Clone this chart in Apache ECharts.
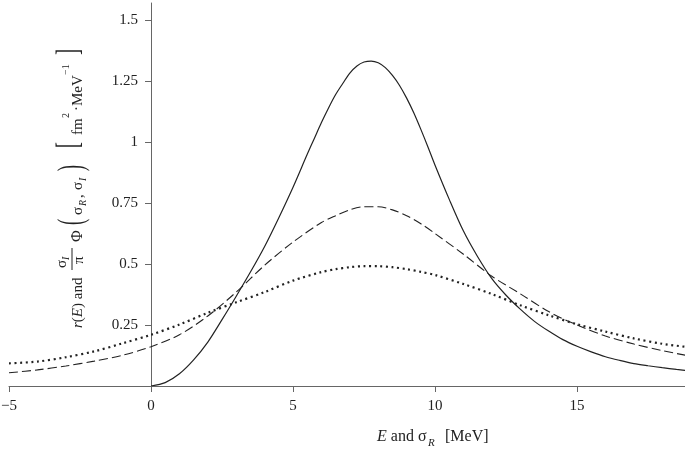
<!DOCTYPE html>
<html>
<head>
<meta charset="utf-8">
<script src="https://cdn.jsdelivr.net/npm/echarts@6/dist/echarts.min.js"></script>
<style>
  html, body { margin: 0; padding: 0; background: #fff; }
  #chart { width: 685px; height: 451px; }
</style>
</head>
<body>
<div id="chart"></div>
<script>
// r(E) - solid
const solidX = [0, 0.5, 1, 1.5, 2, 2.5, 3, 3.5, 4, 4.5, 5, 5.5, 5.75, 6, 6.25, 6.5, 6.75, 7, 7.25, 7.5, 7.75, 8, 8.25, 8.5, 8.75, 9, 9.25, 9.5, 9.75, 10, 10.5, 11, 11.5, 12, 12.5, 13, 13.5, 14, 14.5, 15, 15.5, 16, 16.5, 17, 17.5, 18, 18.5, 19]
const solidY = [0, 0.014, 0.05, 0.107, 0.18, 0.272, 0.368, 0.467, 0.572, 0.69, 0.815, 0.95, 1.015, 1.08, 1.14, 1.195, 1.24, 1.283, 1.312, 1.328, 1.332, 1.325, 1.305, 1.273, 1.232, 1.18, 1.12, 1.052, 0.98, 0.905, 0.765, 0.635, 0.53, 0.44, 0.372, 0.315, 0.265, 0.225, 0.19, 0.163, 0.14, 0.12, 0.105, 0.092, 0.083, 0.075, 0.068, 0.062]

// dashed
const dashX = [-5, -4, -3, -2, -1, 0, 1, 2, 3, 4, 5, 6, 6.5, 7, 7.5, 8, 8.5, 9, 9.5, 10, 11, 12, 13, 14, 15, 16, 17, 18, 19]
const dashY = [0.054, 0.066, 0.082, 0.102, 0.126, 0.161, 0.21, 0.287, 0.385, 0.495, 0.59, 0.67, 0.698, 0.722, 0.735, 0.735, 0.722, 0.698, 0.665, 0.625, 0.54, 0.45, 0.378, 0.305, 0.25, 0.205, 0.172, 0.145, 0.122]

// dotted
const dotX = [-5, -4, -3, -2, -1, 0, 1, 2, 3, 4, 5, 6, 6.5, 7, 7.5, 8, 8.5, 9, 9.5, 10, 11, 12, 13, 14, 15, 16, 17, 18, 19]
const dotY = [0.093, 0.1, 0.118, 0.142, 0.175, 0.21, 0.252, 0.3, 0.343, 0.385, 0.432, 0.467, 0.479, 0.487, 0.491, 0.491, 0.487, 0.479, 0.468, 0.455, 0.418, 0.377, 0.331, 0.29, 0.253, 0.223, 0.195, 0.173, 0.158]

const xTicks = [-5, 0, 5, 10, 15]
const yTicks = [0.25, 0.5, 0.75, 1, 1.25, 1.5]

const pairs = (xs, ys) => xs.map((x, i) => [x, ys[i]])

const FONT = '"Liberation Serif", "DejaVu Serif", serif'
const INK = '#222'
const AXIS = '#666'

const X_MIN = -5, X_MAX = 18.8
const GRID_L = 9, GRID_R = 0, W = 685
// shift the y axis so it sits on E = 0
const yOffset = -(0 - X_MIN) * (W - GRID_L - GRID_R) / (X_MAX - X_MIN)

function txt(x, y, text, size, extra) {
  return {
    type: 'text', x: x, y: y,
    style: Object.assign({
      text: text, fontFamily: FONT, fontSize: size, fill: INK,
      align: 'left', verticalAlign: 'middle'
    }, extra || {})
  }
}
const it = { fontStyle: 'italic' }
function tall(x, y, ch, size, sy) {
  const t = txt(x, y, ch, size)
  t.scaleY = sy
  return t
}

// y axis title, laid out along the text direction (u) and across it (v)
const yTitle = {
  type: 'group', x: 78, y: 328, rotation: Math.PI / 2,
  children: [
    txt(0, 0, '{i|r}({i|E}) and', 15, { rich: { i: { fontStyle: 'italic', fontFamily: FONT, fontSize: 15 } } }),
    txt(60, -16, 'σ', 15),
    txt(68, -12, 'I', 10, it),
    { type: 'line', shape: { x1: 58, y1: -6, x2: 80, y2: -6 }, style: { stroke: INK, lineWidth: 1 } },
    txt(64, 1, 'π', 15),
    txt(86, 0, 'Φ', 16),
    tall(103, -5, '(', 18, 2.0),
    txt(113, 0, 'σ', 15),
    txt(122, 5, 'R', 10, it),
    txt(130, 1, ',', 15),
    txt(138, 0, 'σ', 15),
    txt(147, 5, 'I', 10, it),
    tall(157, -5, ')', 18, 2.0),
    tall(180, -8, '[', 18, 1.7),
    txt(193, 0, 'fm', 15),
    txt(210, -12, '2', 10),
    txt(217, -1, '·', 15),
    txt(222, 0, 'MeV', 15),
    txt(253, -12, '−1', 10),
    tall(273, -8, ']', 18, 1.7)
  ]
}

// x axis title
const xTitle = [
  txt(377, 437, '{i|E} and σ', 16, { rich: { i: { fontStyle: 'italic', fontFamily: FONT, fontSize: 16 } } }),
  txt(428, 443, 'R', 11, it),
  txt(445, 437, '[MeV]', 16)
]

const chart = echarts.init(document.getElementById('chart'))
chart.setOption({
  animation: false,
  backgroundColor: '#fff',
  grid: { left: GRID_L, right: GRID_R, top: 3, bottom: 65, containLabel: false, outerBoundsMode: 'none' },
  xAxis: {
    type: 'value', min: X_MIN, max: X_MAX,
    axisLine: { show: true, onZero: false, lineStyle: { color: AXIS, width: 1 } },
    axisTick: { show: true, length: 6, customValues: xTicks, lineStyle: { color: AXIS } },
    axisLabel: {
      customValues: xTicks, margin: 13, fontFamily: FONT, fontSize: 15, color: INK,
      formatter: v => v < 0 ? '\u2212' + (-v) : String(v)
    },
    splitLine: { show: false }
  },
  yAxis: {
    type: 'value', min: 0, max: 1.57,
    position: 'left', offset: yOffset,
    axisLine: { show: true, onZero: false, lineStyle: { color: AXIS, width: 1 } },
    axisTick: { show: true, length: 6, customValues: yTicks, lineStyle: { color: AXIS } },
    axisLabel: {
      customValues: yTicks, margin: 13, fontFamily: FONT, fontSize: 15, color: INK,
      formatter: v => String(v)
    },
    splitLine: { show: false }
  },
  graphic: [yTitle].concat(xTitle),
  series: [
    {
      type: 'line', data: pairs(solidX, solidY), smooth: 0.3, showSymbol: false,
      lineStyle: { color: INK, width: 1.2 }
    },
    {
      type: 'line', data: pairs(dashX, dashY), smooth: 0.3, showSymbol: false,
      lineStyle: { color: INK, width: 1.1, type: [9, 4] }
    },
    {
      type: 'line', data: pairs(dotX, dotY), smooth: 0.3, showSymbol: false,
      lineStyle: { color: INK, width: 2.2, type: [2, 3.6] }
    }
  ]
})
</script>
</body>
</html>
